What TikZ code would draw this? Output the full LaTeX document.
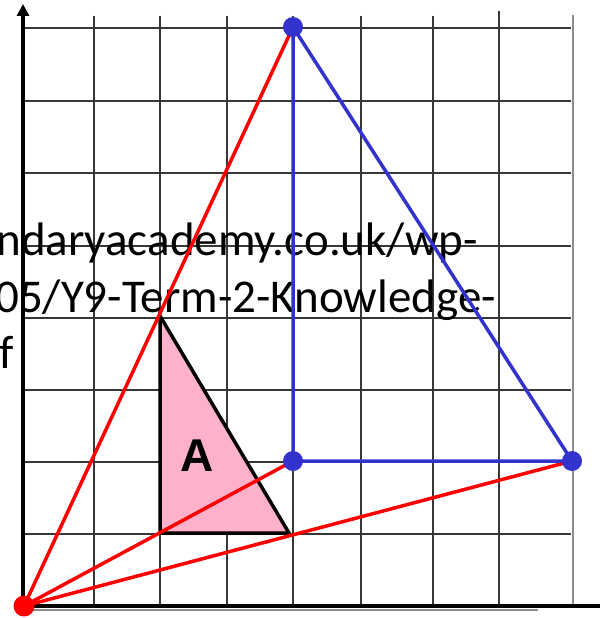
\documentclass[tikz,border=0pt]{standalone}
\usepackage{fontspec}
\setmainfont{Carlito}
\newfontfamily\afont{Liberation Sans}
\usetikzlibrary{arrows.meta}
\definecolor{pinkA}{RGB}{255,176,202}
\definecolor{blueT}{RGB}{51,51,204}
\definecolor{gridc}{RGB}{55,55,55}
\definecolor{gridr}{RGB}{140,140,140}
\tikzset{
  gridline/.style={draw=gridc, line width=1.2pt},
  axisline/.style={draw=black, line width=3.4pt},
  redline/.style={draw=red, line width=3.5pt},
  blueline/.style={draw=blueT, line width=3.5pt},
  bluedot/.style={circle, fill=blueT, minimum size=20pt, inner sep=0pt},
  reddot/.style={circle, fill=red, minimum size=21pt, inner sep=0pt},
  urltext/.style={anchor=base east, inner sep=0pt, font=\fontsize{47}{56}\selectfont},
}
\begin{document}
\begin{tikzpicture}[x=1pt,y=-1pt]
\useasboundingbox (0,0) rectangle (600,618);
\clip (0,0) rectangle (600,618);
% grid
\foreach \x/\t in {94/16,160/16,227/16,293/16,361/16,433/16,499/11}
  \draw[gridline] (\x,\t) -- (\x,606);
\foreach \y in {28,101,173,246,318,390,462,534}
  \draw[gridline] (25,\y) -- (571,\y);
\draw[draw=gridr, line width=2.2pt] (573,15) -- (573,606);
\draw[draw=gridr, line width=2pt] (25,610) -- (538,610);
% axes
\coordinate (O) at (24,606);
\coordinate (yend) at (23,4);
\coordinate (xend) at (600,606);
\draw[axisline] (O) -- (xend);
\draw[axisline, -{Triangle[length=12pt,width=12pt]}] (23,606) -- (yend);
% text
\node[urltext] (t1) at (478,255) {ndaryacademy.co.uk/wp-};
\node[urltext] (t2) at (496,312) {05/Y9-Term-2-Knowledge-};
\node[urltext] (t3) at (14,368) {f};
% triangle A
\coordinate (a1) at (160,316);
\coordinate (a2) at (160,533);
\coordinate (a3) at (289,533);
\draw[fill=pinkA, draw=black, line width=3.5pt, line join=miter] (a1) -- (a2) -- (a3) -- cycle;
\node[font=\afont\bfseries\fontsize{46}{46}\selectfont, inner sep=0pt] (A) at (197,456) {A};
% image triangle
\coordinate (T) at (293,27);
\coordinate (B1) at (293,461);
\coordinate (B2) at (572,461);
\draw[redline] (O) -- (T);
\draw[redline] (O) -- (B1);
\draw[redline] (O) -- (B2);
\draw[blueline, line join=round] (T) -- (B1) -- (B2) -- cycle;
\node[bluedot] (dT) at (T) {};
\node[bluedot] (dB1) at (B1) {};
\node[bluedot] (dB2) at (B2) {};
\node[reddot] (dO) at (O) {};
\end{tikzpicture}
\end{document}
